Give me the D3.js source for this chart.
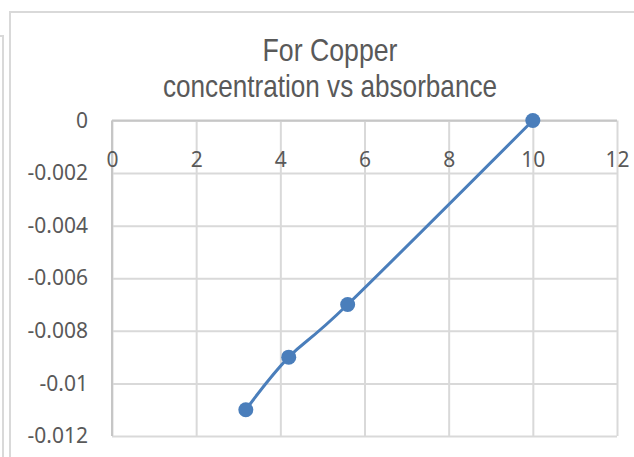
<!DOCTYPE html>
<html>
<head>
<meta charset="utf-8">
<script src="https://cdn.jsdelivr.net/npm/d3@7"></script>
<style>
body { margin: 0; background: #fff; }
svg { display: block; }
.title { font-family: "Liberation Sans Narrow", "Liberation Sans", sans-serif; font-size: 32px; fill: #595959; }
.tick-label text { font-family: "Noto Sans", sans-serif; font-size: 21px; fill: #595959; }
.grid line { stroke: #d9d9d9; stroke-width: 2; }
.grid .domain { display: none; }
</style>
</head>
<body>
<svg width="634" height="457"></svg>
<script>

// values
var concentration = [3.18, 4.2, 5.6, 10];
var absorbance = [-0.011, -0.009, -0.007, 0];
var xTicks = [0, 2, 4, 6, 8, 10, 12];
var yTicks = [0, -0.002, -0.004, -0.006, -0.008, -0.01, -0.012];
var titleLines = ["For Copper", "concentration vs absorbance"];

var svg = d3.select("svg");

var plotLeft = 112, plotRight = 617, plotTop = 120.5, plotBottom = 436;

var x = d3.scaleLinear().domain([0, 12]).range([plotLeft, plotRight]);
var y = d3.scaleLinear().domain([-0.012, 0]).range([plotBottom, plotTop]);

// chart frame and the edge of the neighbouring chart
svg.append("rect")
	.attr("x", 10).attr("y", 12)
	.attr("width", 640).attr("height", 460)
	.attr("fill", "none")
	.attr("stroke", "#d9d9d9")
	.attr("stroke-width", 2);
svg.append("path")
	.attr("d", "M0,36H3V460")
	.attr("fill", "none")
	.attr("stroke", "#d9d9d9")
	.attr("stroke-width", 2);

// title
svg.append("text")
	.attr("class", "title")
	.attr("x", 330).attr("y", 61)
	.attr("text-anchor", "middle")
	.attr("textLength", 135)
	.attr("lengthAdjust", "spacingAndGlyphs")
	.text(titleLines[0]);
svg.append("text")
	.attr("class", "title")
	.attr("x", 330).attr("y", 97)
	.attr("text-anchor", "middle")
	.attr("textLength", 334)
	.attr("lengthAdjust", "spacingAndGlyphs")
	.text(titleLines[1]);

// gridlines
svg.append("g")
	.attr("class", "grid")
	.attr("transform", "translate(0," + plotBottom + ")")
	.call(d3.axisBottom(x).tickValues(xTicks).tickSize(-(plotBottom - plotTop)).tickFormat(""));
svg.append("g")
	.attr("class", "grid")
	.attr("transform", "translate(" + plotLeft + ",0)")
	.call(d3.axisLeft(y).tickValues(yTicks).tickSize(-(plotRight - plotLeft)).tickFormat(""));

// axis lines
svg.append("line")
	.attr("x1", plotLeft).attr("x2", plotRight)
	.attr("y1", y(0)).attr("y2", y(0))
	.attr("stroke", "#c6c6c6").attr("stroke-width", 2);
svg.append("line")
	.attr("x1", x(0)).attr("x2", x(0))
	.attr("y1", plotTop).attr("y2", plotBottom)
	.attr("stroke", "#c6c6c6").attr("stroke-width", 2);

// tick labels
var xLabels = svg.append("g")
	.attr("class", "tick-label")
	.attr("transform", "translate(0," + y(0) + ")")
	.call(d3.axisBottom(x).tickValues(xTicks).tickSize(0).tickPadding(32)
		.tickFormat(function(d) { return String(d); }));
xLabels.select(".domain").remove();

var yLabels = svg.append("g")
	.attr("class", "tick-label")
	.attr("transform", "translate(" + plotLeft + ",0)")
	.call(d3.axisLeft(y).tickValues(yTicks).tickSize(0).tickPadding(24)
		.tickFormat(function(d) { return d === 0 ? "0" : String(+d.toFixed(3)); }));
yLabels.select(".domain").remove();

// series
var pts = concentration.map(function(c, i) { return [c, absorbance[i]]; });

var line = d3.line()
	.x(function(d) { return x(d[0]); })
	.y(function(d) { return y(d[1]); })
	.curve(d3.curveCardinal.tension(0));

svg.append("path")
	.datum(pts)
	.attr("d", line)
	.attr("fill", "none")
	.attr("stroke", "#4a7ebb")
	.attr("stroke-width", 3)
	.attr("stroke-linecap", "round");

svg.append("g")
	.selectAll("circle")
	.data(pts)
	.enter().append("circle")
	.attr("cx", function(d) { return x(d[0]); })
	.attr("cy", function(d) { return y(d[1]); })
	.attr("r", 7.5)
	.attr("fill", "#4a7ebb");

</script>
</body>
</html>
